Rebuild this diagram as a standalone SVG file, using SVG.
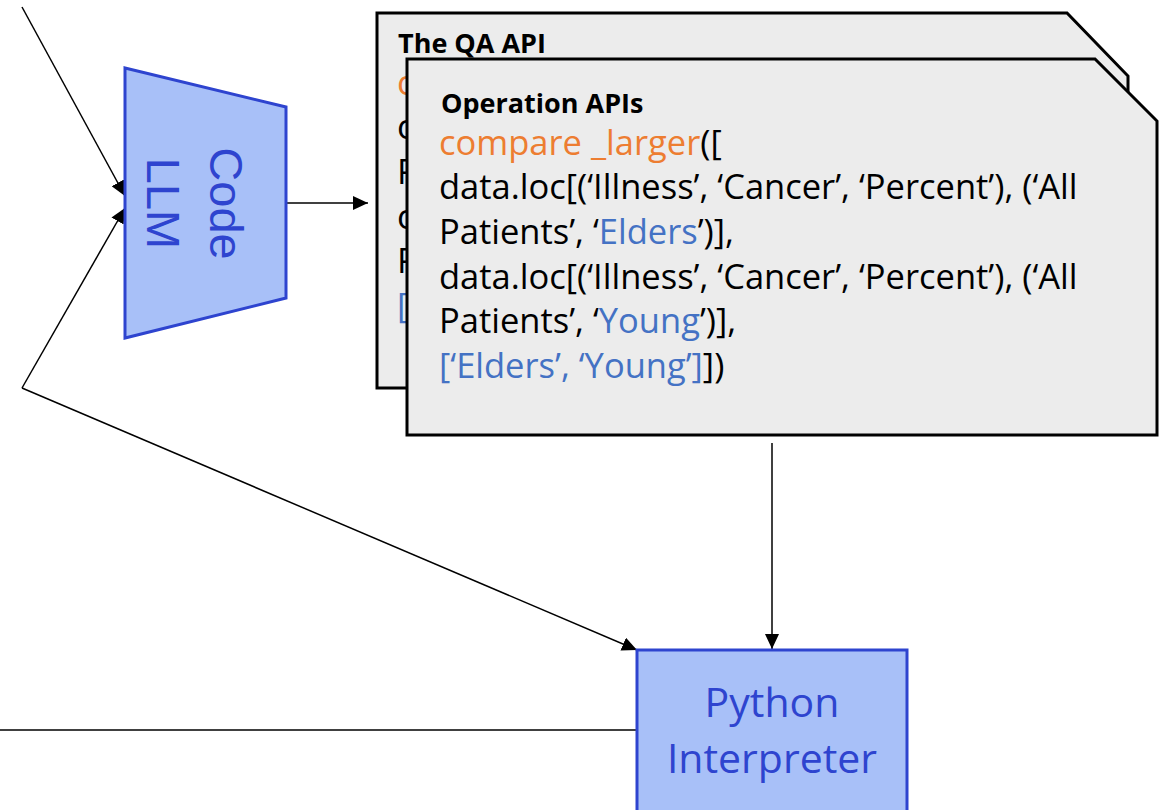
<svg xmlns="http://www.w3.org/2000/svg" width="1171" height="810" viewBox="0 0 1171 810">
  <style>
    .wire { fill: none; stroke: #000; stroke-width: 1.5; }
    .block { fill: #a8c0f8; stroke: #2e44cf; stroke-width: 3; }
    .card { fill: #ececec; stroke: #000; stroke-width: 3; stroke-linejoin: miter; }
    .blabel { font-family: "Liberation Sans", Arial, sans-serif; font-size: 47px; fill: #2e44cf; }
    .plabel { font-family: "Open Sans", "Noto Sans", sans-serif; font-size: 41px; fill: #2e44cf; }
    .head { font-family: "Open Sans", "Noto Sans", sans-serif; font-weight: bold; font-size: 27px; fill: #000; }
    .code { font-family: "Open Sans", "Noto Sans", sans-serif; font-size: 34.5px; fill: #000; }
    .fn { fill: #ed7d31; }
    .arg { fill: #4472c4; }
  </style>
  <defs>
    <marker id="arrow" viewBox="0 0 15 14" refX="15" refY="7" markerWidth="15" markerHeight="14" markerUnits="userSpaceOnUse" orient="auto">
      <path d="M0,0 L15,7 L0,14 Z" fill="#000"/>
    </marker>
  </defs>

  <!-- connectors -->
  <g id="connectors">
    <line class="wire" x1="22" y1="7" x2="125" y2="196" marker-end="url(#arrow)"/>
    <line class="wire" x1="22" y1="388" x2="125" y2="208" marker-end="url(#arrow)"/>
    <line class="wire" x1="22" y1="388" x2="637" y2="650" marker-end="url(#arrow)"/>
    <line class="wire" x1="286" y1="203" x2="368" y2="203" marker-end="url(#arrow)"/>
    <line class="wire" x1="772" y1="443" x2="772" y2="649" marker-end="url(#arrow)"/>
    <line class="wire" x1="0" y1="730" x2="637" y2="730"/>
  </g>

  <!-- Code LLM trapezoid -->
  <g id="code-llm">
    <polygon class="block" points="125,68 286,107 286,298 125,338"/>
    <text class="blabel" text-anchor="middle" transform="translate(210,203.5) rotate(90)">Code</text>
    <text class="blabel" text-anchor="middle" transform="translate(147,203.5) rotate(90)">LLM</text>
  </g>

  <!-- QA API card (behind) -->
  <g id="qa-api-card">
    <polygon class="card" points="377,13 1067,13 1128,76 1128,388 377,388"/>
    <text class="head" x="398" y="53">The QA API</text>
    <text class="code fn" x="397" y="95">c</text>
    <text class="code" x="397" y="139">c</text>
    <text class="code" x="397" y="184">P</text>
    <text class="code" x="397" y="229">c</text>
    <text class="code" x="397" y="273">P</text>
    <text class="code arg" x="397" y="318">[</text>
  </g>

  <!-- Operation APIs card (front) -->
  <g id="operation-apis-card">
    <polygon class="card" points="407,59 1095,59 1157,121 1157,435 407,435"/>
    <text class="head" x="441" y="113">Operation APIs</text>
    <text class="code" x="439" y="155"><tspan class="fn">compare _larger</tspan>([</text>
    <text class="code" x="439" y="199">data.loc[(‘Illness’, ‘Cancer’, ‘Percent’), (‘All</text>
    <text class="code" x="439" y="244">Patients’, ‘<tspan class="arg">Elders</tspan>’)],</text>
    <text class="code" x="439" y="289">data.loc[(‘Illness’, ‘Cancer’, ‘Percent’), (‘All</text>
    <text class="code" x="439" y="333">Patients’, ‘<tspan class="arg">Young</tspan>’)],</text>
    <text class="code" x="439" y="378"><tspan class="arg">[‘Elders’, ‘Young’]</tspan>])</text>
  </g>

  <!-- Python Interpreter block -->
  <g id="python-interpreter">
    <rect class="block" x="637" y="650" width="270" height="190"/>
    <text class="plabel" x="772" y="717" text-anchor="middle">Python</text>
    <text class="plabel" x="772" y="773" text-anchor="middle">Interpreter</text>
  </g>
</svg>
